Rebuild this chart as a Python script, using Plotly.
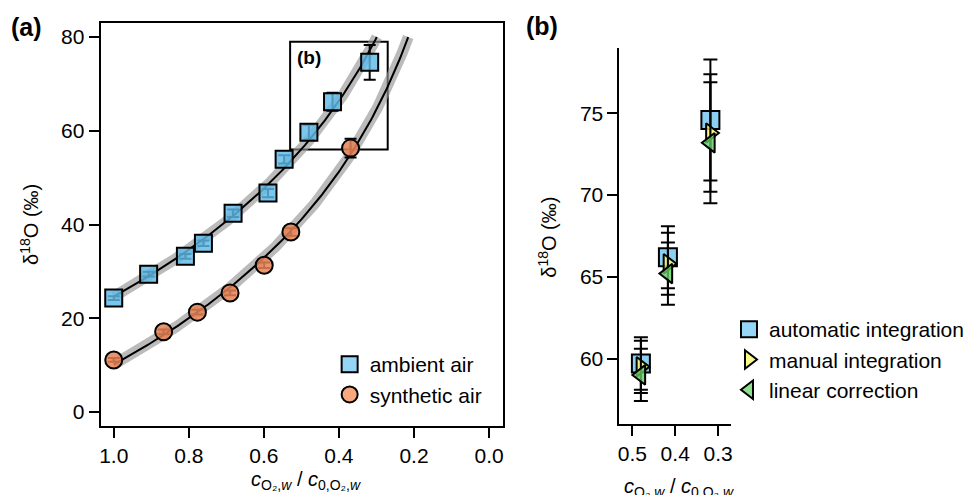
import numpy as np
import plotly.graph_objects as go

# ---- panel (a): delta-18O versus remaining O2 fraction ----
amb_f = [1.00, 0.907, 0.809, 0.761, 0.682, 0.589, 0.546, 0.480, 0.417, 0.318]
amb_d = [24.3, 29.4, 33.2, 36.0, 42.4, 46.7, 53.9, 59.7, 66.2, 74.6]
amb_err = [0.4, 0.5, 0.5, 0.6, 0.8, 0.9, 0.9, 1.6, 1.9, 3.7]

syn_f = [1.00, 0.867, 0.777, 0.690, 0.599, 0.528, 0.369]
syn_d = [11.1, 17.1, 21.3, 25.4, 31.3, 38.4, 56.3]
syn_err = [0.4, 0.5, 0.5, 0.5, 0.6, 0.8, 2.0]

# ---- panel (b): three evaluation methods for the last three samples ----
b_f = [0.480, 0.417, 0.318]
auto_d = [59.7, 66.2, 74.6]
auto_err = [1.6, 1.9, 3.7]
manual_d = [59.5, 65.8, 73.8]
manual_err = [1.6, 1.9, 3.6]
linear_d = [59.0, 65.2, 73.2]
linear_err = [1.6, 1.9, 3.7]

a_xticks = [1.0, 0.8, 0.6, 0.4, 0.2, 0.0]
a_yticks = [0, 20, 40, 60, 80]
b_xticks = [0.5, 0.4, 0.3]
b_yticks = [60, 65, 70, 75]

A_XRANGE = [1.035, -0.037]
A_YRANGE = [-3, 83]
B_XRANGE = [0.53, 0.27]
B_YRANGE = [56, 79]
FIT_TOP = 80.0

W, H = 969, 495
FONT = "Liberation Sans, Arial, Helvetica, sans-serif"


def px_x(p):
    return p / W


def px_y(p):
    return (H - p) / H


def rayleigh_curve(f, d):
    """Least-squares Rayleigh fit: ln(1000+d) = ln(1000+d0) + eps*ln f."""
    eps, icpt = np.polyfit(np.log(f), np.log(1000.0 + np.asarray(d)), 1)
    f_end = np.exp((np.log(1000.0 + FIT_TOP) - icpt) / eps)
    fg = np.linspace(1.0, f_end, 200)
    return fg, np.exp(icpt + eps * np.log(fg)) - 1000.0


fig = go.Figure()

# fitted curves with grey uncertainty band
for f, d in [(amb_f, amb_d), (syn_f, syn_d)]:
    fg, dg = rayleigh_curve(f, d)
    fig.add_trace(go.Scatter(x=fg, y=dg, mode="lines",
                             line=dict(color="rgba(150,150,150,0.65)", width=11),
                             showlegend=False, hoverinfo="skip"))
    fig.add_trace(go.Scatter(x=fg, y=dg, mode="lines",
                             line=dict(color="black", width=2),
                             showlegend=False, hoverinfo="skip"))

err_a = dict(type="data", thickness=2, width=6, color="black")
fig.add_trace(go.Scatter(
    x=amb_f, y=amb_d, mode="markers",
    error_y=dict(array=amb_err, **err_a),
    marker=dict(symbol="square", size=17, color="rgba(95,185,232,0.82)",
                line=dict(color="black", width=2)),
    showlegend=False))
fig.add_trace(go.Scatter(
    x=syn_f, y=syn_d, mode="markers",
    error_y=dict(array=syn_err, **err_a),
    marker=dict(symbol="circle", size=17, color="rgba(232,130,85,0.85)",
                line=dict(color="black", width=2)),
    showlegend=False))

# legend entries for panel (a)
fig.add_trace(go.Scatter(x=[None], y=[None], mode="markers", name="ambient air",
                         marker=dict(symbol="square", size=16, color="#95d6f6",
                                     line=dict(color="black", width=2)),
                         legend="legend"))
fig.add_trace(go.Scatter(x=[None], y=[None], mode="markers", name="synthetic air",
                         marker=dict(symbol="circle", size=16, color="#f8a77f",
                                     line=dict(color="black", width=2)),
                         legend="legend"))

# panel (b)
err_b = dict(type="data", thickness=2, width=7, color="black")
for name, d, e, sym, col, lcol in [
    ("automatic integration", auto_d, auto_err, "square", "rgba(110,195,240,0.8)", "#95d6f6"),
    ("manual integration", manual_d, manual_err, "triangle-right", "rgba(250,245,100,0.8)", "#fafa8a"),
    ("linear correction", linear_d, linear_err, "triangle-left", "rgba(100,205,100,0.8)", "#8ee08e"),
]:
    size = 18 if sym == "square" else 17
    fig.add_trace(go.Scatter(
        x=b_f, y=d, mode="markers", xaxis="x2", yaxis="y2",
        error_y=dict(array=e, **err_b),
        marker=dict(symbol=sym, size=size, color=col, line=dict(color="black", width=2)),
        showlegend=False))
    fig.add_trace(go.Scatter(
        x=[None], y=[None], mode="markers", xaxis="x2", yaxis="y2", name=name,
        marker=dict(symbol=sym, size=16, color=lcol, line=dict(color="black", width=2)),
        legend="legend2"))

axis_common = dict(showgrid=False, zeroline=False, showline=True, linecolor="black",
                   linewidth=2, ticks="outside", ticklen=10, tickwidth=2,
                   tickcolor="black", tickfont=dict(size=21, color="black", family=FONT))

fig.update_layout(
    width=W, height=H,
    margin=dict(l=0, r=0, t=0, b=0),
    paper_bgcolor="white", plot_bgcolor="white",
    font=dict(family=FONT, size=21, color="black"),
    xaxis=dict(domain=[px_x(99), px_x(503)], range=A_XRANGE, tickvals=a_xticks,
               ticktext=[f"{v:.1f}" for v in a_xticks], mirror=True, anchor="y",
               **axis_common),
    yaxis=dict(domain=[px_y(426), px_y(23)], range=A_YRANGE, tickvals=a_yticks,
               mirror=True, anchor="x", **axis_common),
    xaxis2=dict(domain=[px_x(620), px_x(732)], range=B_XRANGE, tickvals=b_xticks,
                ticktext=[f"{v:.1f}" for v in b_xticks], anchor="y2", **axis_common),
    yaxis2=dict(domain=[px_y(424), px_y(48)], range=B_YRANGE, tickvals=b_yticks,
                anchor="x2", **axis_common),
    legend=dict(x=px_x(329), y=px_y(344), xanchor="left", yanchor="top",
                bgcolor="rgba(0,0,0,0)", font=dict(size=21), itemsizing="trace"),
    legend2=dict(x=px_x(730), y=px_y(309), xanchor="left", yanchor="top",
                 bgcolor="rgba(0,0,0,0)", font=dict(size=21), itemsizing="trace"),
)

# zoom window in panel (a) corresponding to panel (b)
fig.add_shape(type="rect", xref="x", yref="y",
              x0=B_XRANGE[0], x1=B_XRANGE[1], y0=B_YRANGE[0], y1=B_YRANGE[1],
              line=dict(color="black", width=2), layer="below")

ytitle = "δ<sup>18</sup>O (‰)"
xtitle = "<i>c</i><sub>O₂,<i>w</i></sub> / <i>c</i><sub>0,O₂,<i>w</i></sub>"
annos = [
    dict(text="<b>(a)</b>", x=px_x(25), y=px_y(27), font=dict(size=25)),
    dict(text="<b>(b)</b>", x=px_x(542), y=px_y(26), font=dict(size=25)),
    dict(text="<b>(b)</b>", x=px_x(308), y=px_y(58), font=dict(size=19)),
    dict(text=ytitle, x=px_x(27), y=px_y(224), textangle=-90, font=dict(size=20)),
    dict(text=ytitle, x=px_x(547), y=px_y(237), textangle=-90, font=dict(size=20)),
    dict(text=xtitle, x=px_x(305), y=px_y(480), font=dict(size=20)),
    dict(text=xtitle, x=px_x(680), y=px_y(487), font=dict(size=20)),
]
for a in annos:
    fig.add_annotation(xref="paper", yref="paper", showarrow=False,
                       xanchor="center", yanchor="middle", **a)

fig.write_html("out.html")
